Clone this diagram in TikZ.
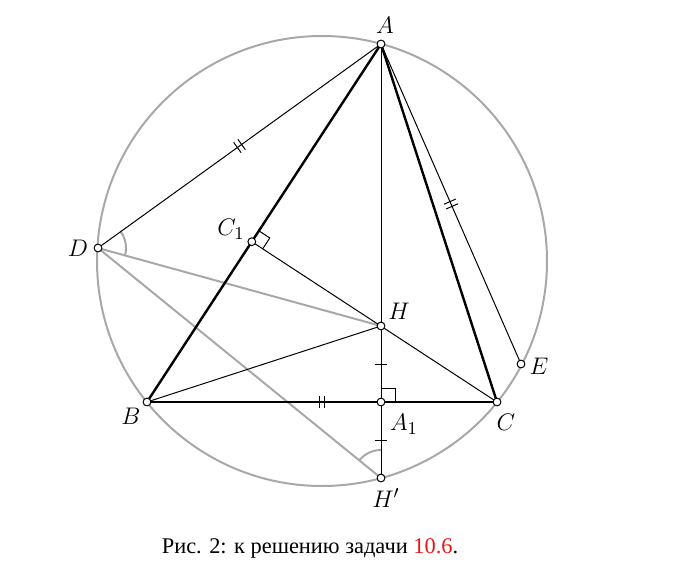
\documentclass[tikz,border=0pt]{standalone}
\usepackage{fontspec}
\newfontfamily\capfont{Liberation Serif}
\usetikzlibrary{calc,decorations.markings}
\definecolor{circgray}{RGB}{168,168,168}
\definecolor{capred}{RGB}{235,20,20}
\tikzset{
  thickseg/.style={line width=1.2pt, black},
  thinseg/.style={line width=0.5pt, black},
  grayseg/.style={line width=1pt, circgray},
  pt/.style={circle, draw=black, fill=white, line width=0.5pt, inner sep=0pt, minimum size=3.9pt},
  lbl/.style={font=\fontsize{12.5pt}{14pt}\selectfont, inner sep=0pt},
  dtick/.style={postaction={decorate}, decoration={markings, mark=at position 0.5 with {
      \draw[line width=0.5pt,black] (-1.3pt,-3.2pt)--(-1.3pt,3.2pt);
      \draw[line width=0.5pt,black] (1.3pt,-3.2pt)--(1.3pt,3.2pt);}}},
  stick/.style={postaction={decorate}, decoration={markings, mark=at position 0.5 with {
      \draw[line width=0.5pt,black] (0pt,-3.2pt)--(0pt,3.2pt);}}},
}
\begin{document}
\begin{tikzpicture}[x=0.5pt,y=0.5pt]
\useasboundingbox (0,0) rectangle (685,575);
% points (y flipped: Y = 575 - y_image)
\coordinate (O) at (322,314);
\coordinate (A) at (381,531);
\coordinate (B) at (147,173);
\coordinate (C) at (497,173);
\coordinate (D) at (98,327);
\coordinate (E) at (521,211);
\coordinate (H) at (381,249);
\coordinate (A1) at (381,173);
\coordinate (Hp) at (381,97);
\coordinate (C1) at (251.8,333.3);
% circle
\draw[grayseg] (O) circle[radius=112.5pt];
% gray segments
\draw[grayseg] (D) -- (H);
\draw[grayseg] (D) -- (Hp);
% angle arcs
\draw[grayseg] ($(D)+(-15.4:14pt)$) arc[start angle=-15.4, end angle=35.8, radius=14pt];
\draw[grayseg] ($(Hp)+(90:14pt)$) arc[start angle=90, end angle=141, radius=14pt];
% thin black
\draw[thinseg, dtick] (A) -- (D);
\draw[thinseg, dtick] (A) -- (E);
\draw[thinseg] (A) -- (H);
\draw[thinseg, stick] (H) -- (A1);
\draw[thinseg, stick] (A1) -- (Hp);
\draw[thinseg] (C1) -- (C);
\draw[thinseg] (B) -- (H);
% triangle
\draw[thickseg] (A) -- (B);
\draw[thickseg] (A) -- (C);
\draw[thickseg, dtick] (B) -- (C);
% right angle marks
\draw[thinseg] ($(C1)!6.5pt!(A)$) -- ($(C1)!6.5pt!(A) + (C1)!6.5pt!(C) - (C1)$) -- ($(C1)!6.5pt!(C)$);
\draw[thinseg] ($(A1)!7pt!(A)$) -- ($(A1)!7pt!(A) + (A1)!7pt!(C) - (A1)$) -- ($(A1)!7pt!(C)$);
% point markers
\foreach \p in {A,B,C,D,E,H,A1,Hp,C1} \node[pt] (n\p) at (\p) {};
% labels
\node[lbl] (lA) at (385,550) {$A$};
\node[lbl] (lB) at (131,159) {$B$};
\node[lbl] (lC) at (506,153) {$C$};
\node[lbl] (lD) at (78,327) {$D$};
\node[lbl] (lE) at (539,209) {$E$};
\node[lbl] (lH) at (399,264) {$H$};
\node[lbl] (lA1) at (404,151) {$A_1$};
\node[lbl] (lHp) at (386,77) {$H'$};
\node[lbl] (lC1) at (231,346) {$C_1$};
% caption
\node[font=\capfont\fontsize{11.2pt}{13pt}\selectfont, inner sep=0pt] (cap) at (310,27) {Рис. 2: к решению задачи \textcolor{capred}{10.6}.};
\end{tikzpicture}
\end{document}
